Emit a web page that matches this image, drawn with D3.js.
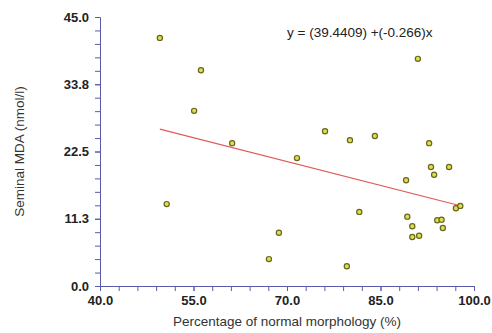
<!DOCTYPE html>
<html>
  <head>
    <meta http-equiv="Content-Type" content="text/html;charset=utf-8">
    <title>MDA vs morphology</title>
    <script src="https://cdn.jsdelivr.net/npm/d3@7"></script>
    <style type="text/css">
body {
    margin: 0;
    background: #fff;
}
text {
    font-family: Arial, "Liberation Sans", sans-serif;
}
.axis path, .axis line {
    stroke: #5a5aa8;
    stroke-width: 1px;
}
.axis text {
    font-size: 13px;
    font-weight: bold;
    fill: #222;
}
    </style>
  </head>
  <body>
    <script type="text/javascript">
// data
var morph = [49.6, 56.2, 55.1, 61.2, 50.7, 71.6, 76.1, 80.1, 84.1, 91.0,
             92.8, 93.1, 96.0, 93.6, 89.1, 97.1, 97.8, 81.6, 89.3, 90.1,
             94.1, 94.8, 95.0, 90.1, 91.2, 68.7, 67.1, 79.6];
var mda = [41.5, 36.1, 29.3, 23.9, 13.7, 21.4, 25.9, 24.4, 25.1, 38.0,
           23.9, 19.9, 19.9, 18.6, 17.7, 13.0, 13.4, 12.4, 11.6, 10.0,
           11.0, 11.1, 9.7, 8.2, 8.4, 8.9, 4.5, 3.3];
var xTicks = [40.0, 55.0, 70.0, 85.0, 100.0];
var yTicks = [0.0, 11.25, 22.5, 33.75, 45.0];
var fit = [39.4409, -0.266];   // intercept, slope

var W = 492, H = 333,
    margin = {top: 17, right: 18, bottom: 47, left: 100},
    w = W - margin.left - margin.right,
    h = H - margin.top - margin.bottom;

var svg = d3.select('body').append('svg')
    .attr('width', W)
    .attr('height', H);

var chart = svg.append('g')
    .attr('transform', 'translate(' + margin.left + ',' + margin.top + ')');

var x = d3.scaleLinear().domain([40, 100]).range([0, w]),
    y = d3.scaleLinear().domain([0, 45]).range([h, 0]);

// minor ticks (5 per major interval)
var xMinor = d3.range(40, 100.01, 3),
    yMinor = d3.range(0, 45.01, 2.25);

chart.append('g')
    .attr('class', 'axis')
    .attr('transform', 'translate(0,' + h + ')')
    .call(d3.axisBottom(x).tickValues(xMinor).tickSize(5).tickFormat('').tickSizeOuter(0));
chart.append('g')
    .attr('class', 'axis')
    .attr('transform', 'translate(0,' + h + ')')
    .call(d3.axisBottom(x).tickValues(xTicks).tickSize(5).tickPadding(5)
        .tickFormat(d3.format('.1f')).tickSizeOuter(0));

chart.append('g')
    .attr('class', 'axis')
    .call(d3.axisLeft(y).tickValues(yMinor).tickSize(5).tickFormat('').tickSizeOuter(0));
chart.append('g')
    .attr('class', 'axis')
    .call(d3.axisLeft(y).tickValues(yTicks).tickSize(5).tickPadding(6)
        .tickFormat(d3.format('.1f')).tickSizeOuter(0));

// regression line across the data range
var xr = d3.extent(morph);
chart.append('line')
    .attr('x1', x(xr[0]))
    .attr('y1', y(fit[0] + fit[1] * xr[0]))
    .attr('x2', x(xr[1]))
    .attr('y2', y(fit[0] + fit[1] * xr[1]))
    .attr('stroke', '#e05a5a')
    .attr('stroke-width', 1.2);

chart.selectAll('circle')
    .data(morph)
  .enter().append('circle')
    .attr('cx', function(d) { return x(d) })
    .attr('cy', function(d, i) { return y(mda[i]) })
    .attr('r', 2.6)
    .attr('fill', '#dede50')
    .attr('stroke', '#66661c')
    .attr('stroke-width', 1.2);

// labels
svg.append('text')
    .attr('x', 287)
    .attr('y', 37)
    .attr('font-size', '13.5px')
    .attr('fill', '#222')
    .text('y = (39.4409) +(-0.266)x');

svg.append('text')
    .attr('x', margin.left + w / 2)
    .attr('y', 326)
    .attr('text-anchor', 'middle')
    .attr('font-size', '13.5px')
    .attr('fill', '#333')
    .text('Percentage of normal morphology (%)');

svg.append('text')
    .attr('transform', 'translate(24,' + (margin.top + h / 2) + ') rotate(-90)')
    .attr('text-anchor', 'middle')
    .attr('font-size', '13.5px')
    .attr('fill', '#333')
    .text('Seminal MDA (nmol/l)');
    </script>
  </body>
</html>
